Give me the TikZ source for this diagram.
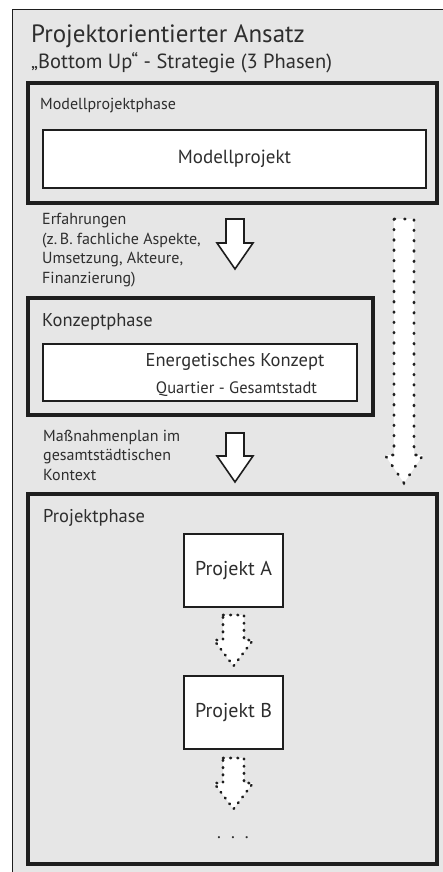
\documentclass[tikz,border=0pt]{standalone}
\usepackage{fontspec}
\setmainfont{PT Sans}
\usetikzlibrary{positioning}
\definecolor{panelgray}{HTML}{E6E6E6}
\definecolor{inkgray}{HTML}{1E1E1E}
\definecolor{textgray}{HTML}{2E2E2E}

\tikzset{
  textlabel/.style={inner sep=0pt, anchor=base west, text=textgray},
  phasebox/.style={draw=inkgray, line width=3.4pt},
  phaselabel/.style={textlabel, font=\fontsize{18.5}{22}\selectfont},
  itembox/.style={draw=inkgray, line width=1.6pt, fill=white, text=textgray},
  notelabel/.style={textlabel, align=left, font=\fontsize{16}{19.5}\selectfont},
  solidarrow/.style={draw=inkgray, line width=1.6pt, fill=white, line join=miter},
  dotarrow/.style={draw=inkgray, line width=2.6pt, fill=white, line cap=round,
    dash pattern=on 0.8pt off 6.4pt},
  longdotarrow/.style={dotarrow, dash pattern=on 1pt off 9.3pt}
}

% block arrow pointing down: [style]{x}{top y}{tip y}{shaft half}{head half}{head length}
\newcommand{\blockdown}[7][]{%
  \draw[#1] ({#2-#5},#3) -- ({#2+#5},#3) -- ({#2+#5},{#4-#7}) -- ({#2+#6},{#4-#7})
    -- (#2,#4) -- ({#2-#6},{#4-#7}) -- ({#2-#5},{#4-#7}) -- cycle;}

\begin{document}
\begin{tikzpicture}[x=1pt,y=-1pt]
  \useasboundingbox (0,0) rectangle (443,872);
  \fill[panelgray] (12,10) rectangle (443,872);
  \draw[inkgray, line width=1pt] (12,872) -- (12,10) -- (443,10);

  \node[textlabel, font=\fontsize{25}{29}\selectfont] (title) at (31,43) {Projektorientierter Ansatz};
  \node[textlabel, font=\fontsize{20.5}{24}\selectfont] (subtitle) at (31,69) {„Bottom Up“ - Strategie (3 Phasen)};

  % Modellprojektphase
  \node[phasebox, minimum width=409pt, minimum height=120pt] (modellphase) at (232.5,143) {};
  \node[phaselabel, font=\fontsize{16}{19}\selectfont] (modelllabel) at (40,110) {Modellprojektphase};
  \node[itembox, minimum width=383pt, minimum height=58pt,
        font=\fontsize{19}{23}\selectfont] (modellprojekt) at (234.5,159) {Modellprojekt};

  \node[notelabel] (erfahrungen) at (42,283) {Erfahrungen\\(z.\,B. fachliche Aspekte,\\Umsetzung, Akteure,\\Finanzierung)};
  \blockdown[solidarrow]{235}{219}{269}{9}{18}{26}

  % Konzeptphase
  \node[phasebox, minimum width=345pt, minimum height=117pt] (konzeptphase) at (200.5,356.5) {};
  \node[phaselabel] (konzeptlabel) at (42,326) {Konzeptphase};
  \node[itembox, minimum width=314pt, minimum height=57pt] (konzept) at (200,372.5) {};
  \node[textlabel, anchor=base, font=\fontsize{18.5}{22}\selectfont] (konzepttitel) at (235,366) {Energetisches Konzept};
  \node[textlabel, anchor=base, font=\fontsize{16.5}{19}\selectfont] (konzeptraum) at (236.5,393) {Quartier - Gesamtstadt};

  \node[notelabel] (massnahmen) at (43,480) {Maßnahmenplan im\\gesamtstädtischen\\Kontext};
  \blockdown[solidarrow]{235}{433}{482}{9}{18}{26}

  % long dotted arrow on the right
  \blockdown[longdotarrow]{404}{219}{483}{10}{19}{28}

  % Projektphase
  \node[phasebox, minimum width=409pt, minimum height=370pt] (projektphase) at (232.5,679) {};
  \node[phaselabel] (projektlabel) at (43,522) {Projektphase};
  \node[itembox, minimum width=99pt, minimum height=73pt,
        font=\fontsize{20}{24}\selectfont] (projektA) at (233.5,570.5) {Projekt A};
  \blockdown[dotarrow]{233.5}{615}{666}{10.5}{19.5}{26}
  \node[itembox, minimum width=99pt, minimum height=73pt,
        font=\fontsize{20}{24}\selectfont] (projektB) at (233.5,712.5) {Projekt B};
  \blockdown[dotarrow]{233.5}{758}{809}{10.5}{19.5}{26}
  \node[textlabel, anchor=base, font=\fontsize{18}{22}\selectfont] (weitere) at (233,838) {.\hspace{10pt}.\hspace{10pt}.};
\end{tikzpicture}
\end{document}
